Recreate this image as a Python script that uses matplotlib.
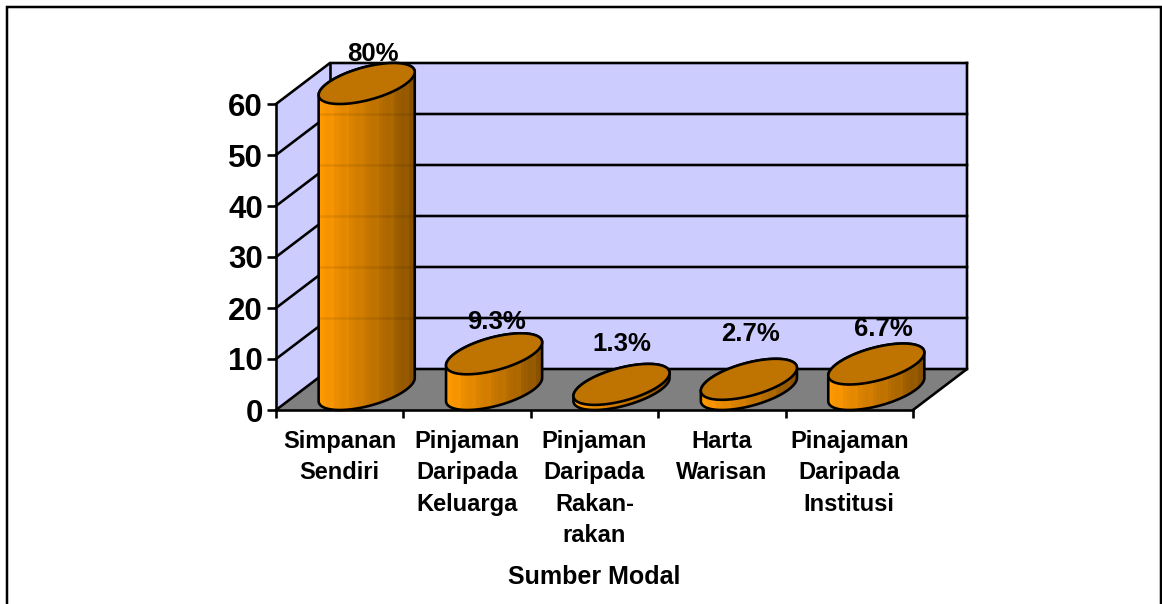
import numpy as np
import matplotlib
matplotlib.use('Agg')
import matplotlib.pyplot as plt
from matplotlib.colors import LinearSegmentedColormap
from matplotlib.patches import Polygon, Rectangle

categories = ['Simpanan\nSendiri', 'Pinjaman\nDaripada\nKeluarga', 'Pinjaman\nDaripada\nRakan-\nrakan',
              'Harta\nWarisan', 'Pinajaman\nDaripada\nInstitusi']
values = [60, 7, 1, 2, 5]
labels = ['80%', '9.3%', '1.3%', '2.7%', '6.7%']
y_ticks = [0, 10, 20, 30, 40, 50, 60]

W, H = 1162, 604
DPI = 100
px = 72 / DPI  # points per pixel

# 3d look: depth offset of the back wall, in data units
dx = 54 / 127.4
dy = 41 / 5.1
rx = 0.312  # cylinder radius along x

# label nudges in pixels from the centre of the cylinder top
label_nudge = [(6, 30), (2, 32), (0, 40), (2, 45), (7, 35)]

plt.rcParams['font.family'] = ['Liberation Sans', 'DejaVu Sans']
plt.rcParams['font.weight'] = 'bold'

fig = plt.figure(figsize=(W / DPI, H / DPI), dpi=DPI)
fig.add_artist(Rectangle((7 / W, -0.02), (W - 8.5) / W, 1.02 - 7 / H, transform=fig.transFigure,
                         fill=False, edgecolor='black', linewidth=2.5 * px))

ax = fig.add_axes([276 / W, (H - 410) / H, 637 / W, 306 / H])
ax.set_facecolor('none')
ax.set_xlim(0, len(values))
ax.set_ylim(0, 60)

line_w = 2.6 * px
wall = '#CCCCFF'
ymax = y_ticks[-1]
nx = len(values)

# walls and floor
ax.add_patch(Polygon([(0, 0), (dx, dy), (dx, ymax + dy), (0, ymax)], facecolor=wall, edgecolor='none', clip_on=False, zorder=1))
ax.add_patch(Polygon([(dx, dy), (nx + dx, dy), (nx + dx, ymax + dy), (dx, ymax + dy)], facecolor=wall, edgecolor='none', clip_on=False, zorder=1))
ax.add_patch(Polygon([(0, 0), (nx, 0), (nx + dx, dy), (dx, dy)], facecolor='#808080', edgecolor='none', clip_on=False, zorder=1))

for v in y_ticks:
    ax.plot([0, dx, nx + dx], [v, v + dy, v + dy], color='black', lw=line_w, clip_on=False, zorder=1.5, solid_joinstyle='miter')
ax.plot([dx, dx], [dy, ymax + dy], color='black', lw=line_w, clip_on=False, zorder=1.5)
ax.plot([nx + dx, nx + dx, nx], [ymax + dy, dy, 0], color='black', lw=line_w, clip_on=False, zorder=1.5)

# cylinders
cmap = LinearSegmentedColormap.from_list('bar', ['#FF9900', '#DA8200', '#B46C00', '#854F00'])
bands = np.linspace(0, 1, 26)
bands[3::4] -= 0.05
shade = cmap(np.clip(bands, 0, 1))[np.newaxis, :, :3]

t = np.linspace(0, 2 * np.pi, 241)


def ellipse(cx, cy):
    return (cx + rx * np.cos(t) + dx / 2 * np.sin(t),
            cy + dy / 2 * np.sin(t))


for i, v in enumerate(values):
    cx = i + 0.5 + dx / 2
    cy = dy / 2
    bx, by = ellipse(cx, cy)
    tx, ty = bx, by + v
    left, right = np.argmin(bx), np.argmax(bx)
    # lower arc of the base, going from left extreme to right extreme
    idx = np.arange(left, left + 241) % 240
    idx = idx[:np.where(idx == right)[0][0] + 1]
    idx_top = np.arange(right, right + 241) % 240
    idx_top = idx_top[:np.where(idx_top == left)[0][0] + 1]
    outline = np.concatenate([np.c_[bx[idx], by[idx]], np.c_[tx[idx_top], ty[idx_top]]])

    body = Polygon(outline, closed=True, facecolor='none', edgecolor='none', transform=ax.transData)
    ax.add_patch(body)
    im = ax.imshow(shade, extent=(bx.min(), bx.max(), 0, ymax + dy), aspect='auto', zorder=3, interpolation='nearest')
    im.set_clip_path(body)
    im.set_clip_box(fig.bbox)

    # back grid shows faintly through the tall bar
    for g in y_ticks[1:]:
        if g + dy < v + cy:
            gl, = ax.plot([bx.min(), bx.max()], [g + dy, g + dy], color='black', lw=line_w, alpha=0.08, zorder=3.1)
            gl.set_clip_path(body)
            gl.set_clip_box(fig.bbox)

    ax.add_patch(Polygon(outline, closed=True, fill=False, edgecolor='black', lw=line_w, clip_on=False, zorder=3.2, joinstyle='round'))
    ax.fill(tx, ty, facecolor='#BF7300', edgecolor='black', lw=line_w, clip_on=False, zorder=3.3)

    nudge = label_nudge[i]
    ax.annotate(labels[i], (cx, cy + v), xytext=(nudge[0] * px, nudge[1] * px), textcoords='offset points',
                ha='center', va='center', fontsize=18.5, fontweight='bold', color='black', zorder=5, annotation_clip=False)

ax.set_xlim(0, nx)
ax.set_ylim(0, ymax)

# axes
for s in ['top', 'right']:
    ax.spines[s].set_visible(False)
for s in ['left', 'bottom']:
    ax.spines[s].set_linewidth(line_w)

ax.set_yticks(y_ticks)
ax.tick_params(axis='y', length=9 * px, width=line_w, labelsize=22.5, pad=3)
ax.set_xticks(range(nx + 1))
ax.set_xticklabels([])
ax.set_xticks(np.arange(nx) + 0.5, minor=True)
ax.set_xticklabels(categories, minor=True, fontsize=17, fontweight='bold', linespacing=1.46, va='top')
ax.tick_params(axis='x', which='major', length=8 * px, width=line_w)
ax.tick_params(axis='x', which='minor', length=0, pad=14.5)
for tl in ax.get_yticklabels():
    tl.set_fontweight('bold')
ax.set_xlabel('Sumber Modal', fontsize=18, fontweight='bold')
ax.xaxis.set_label_coords(0.5, -0.508)

fig.savefig('out.png', dpi=DPI, facecolor='white')
